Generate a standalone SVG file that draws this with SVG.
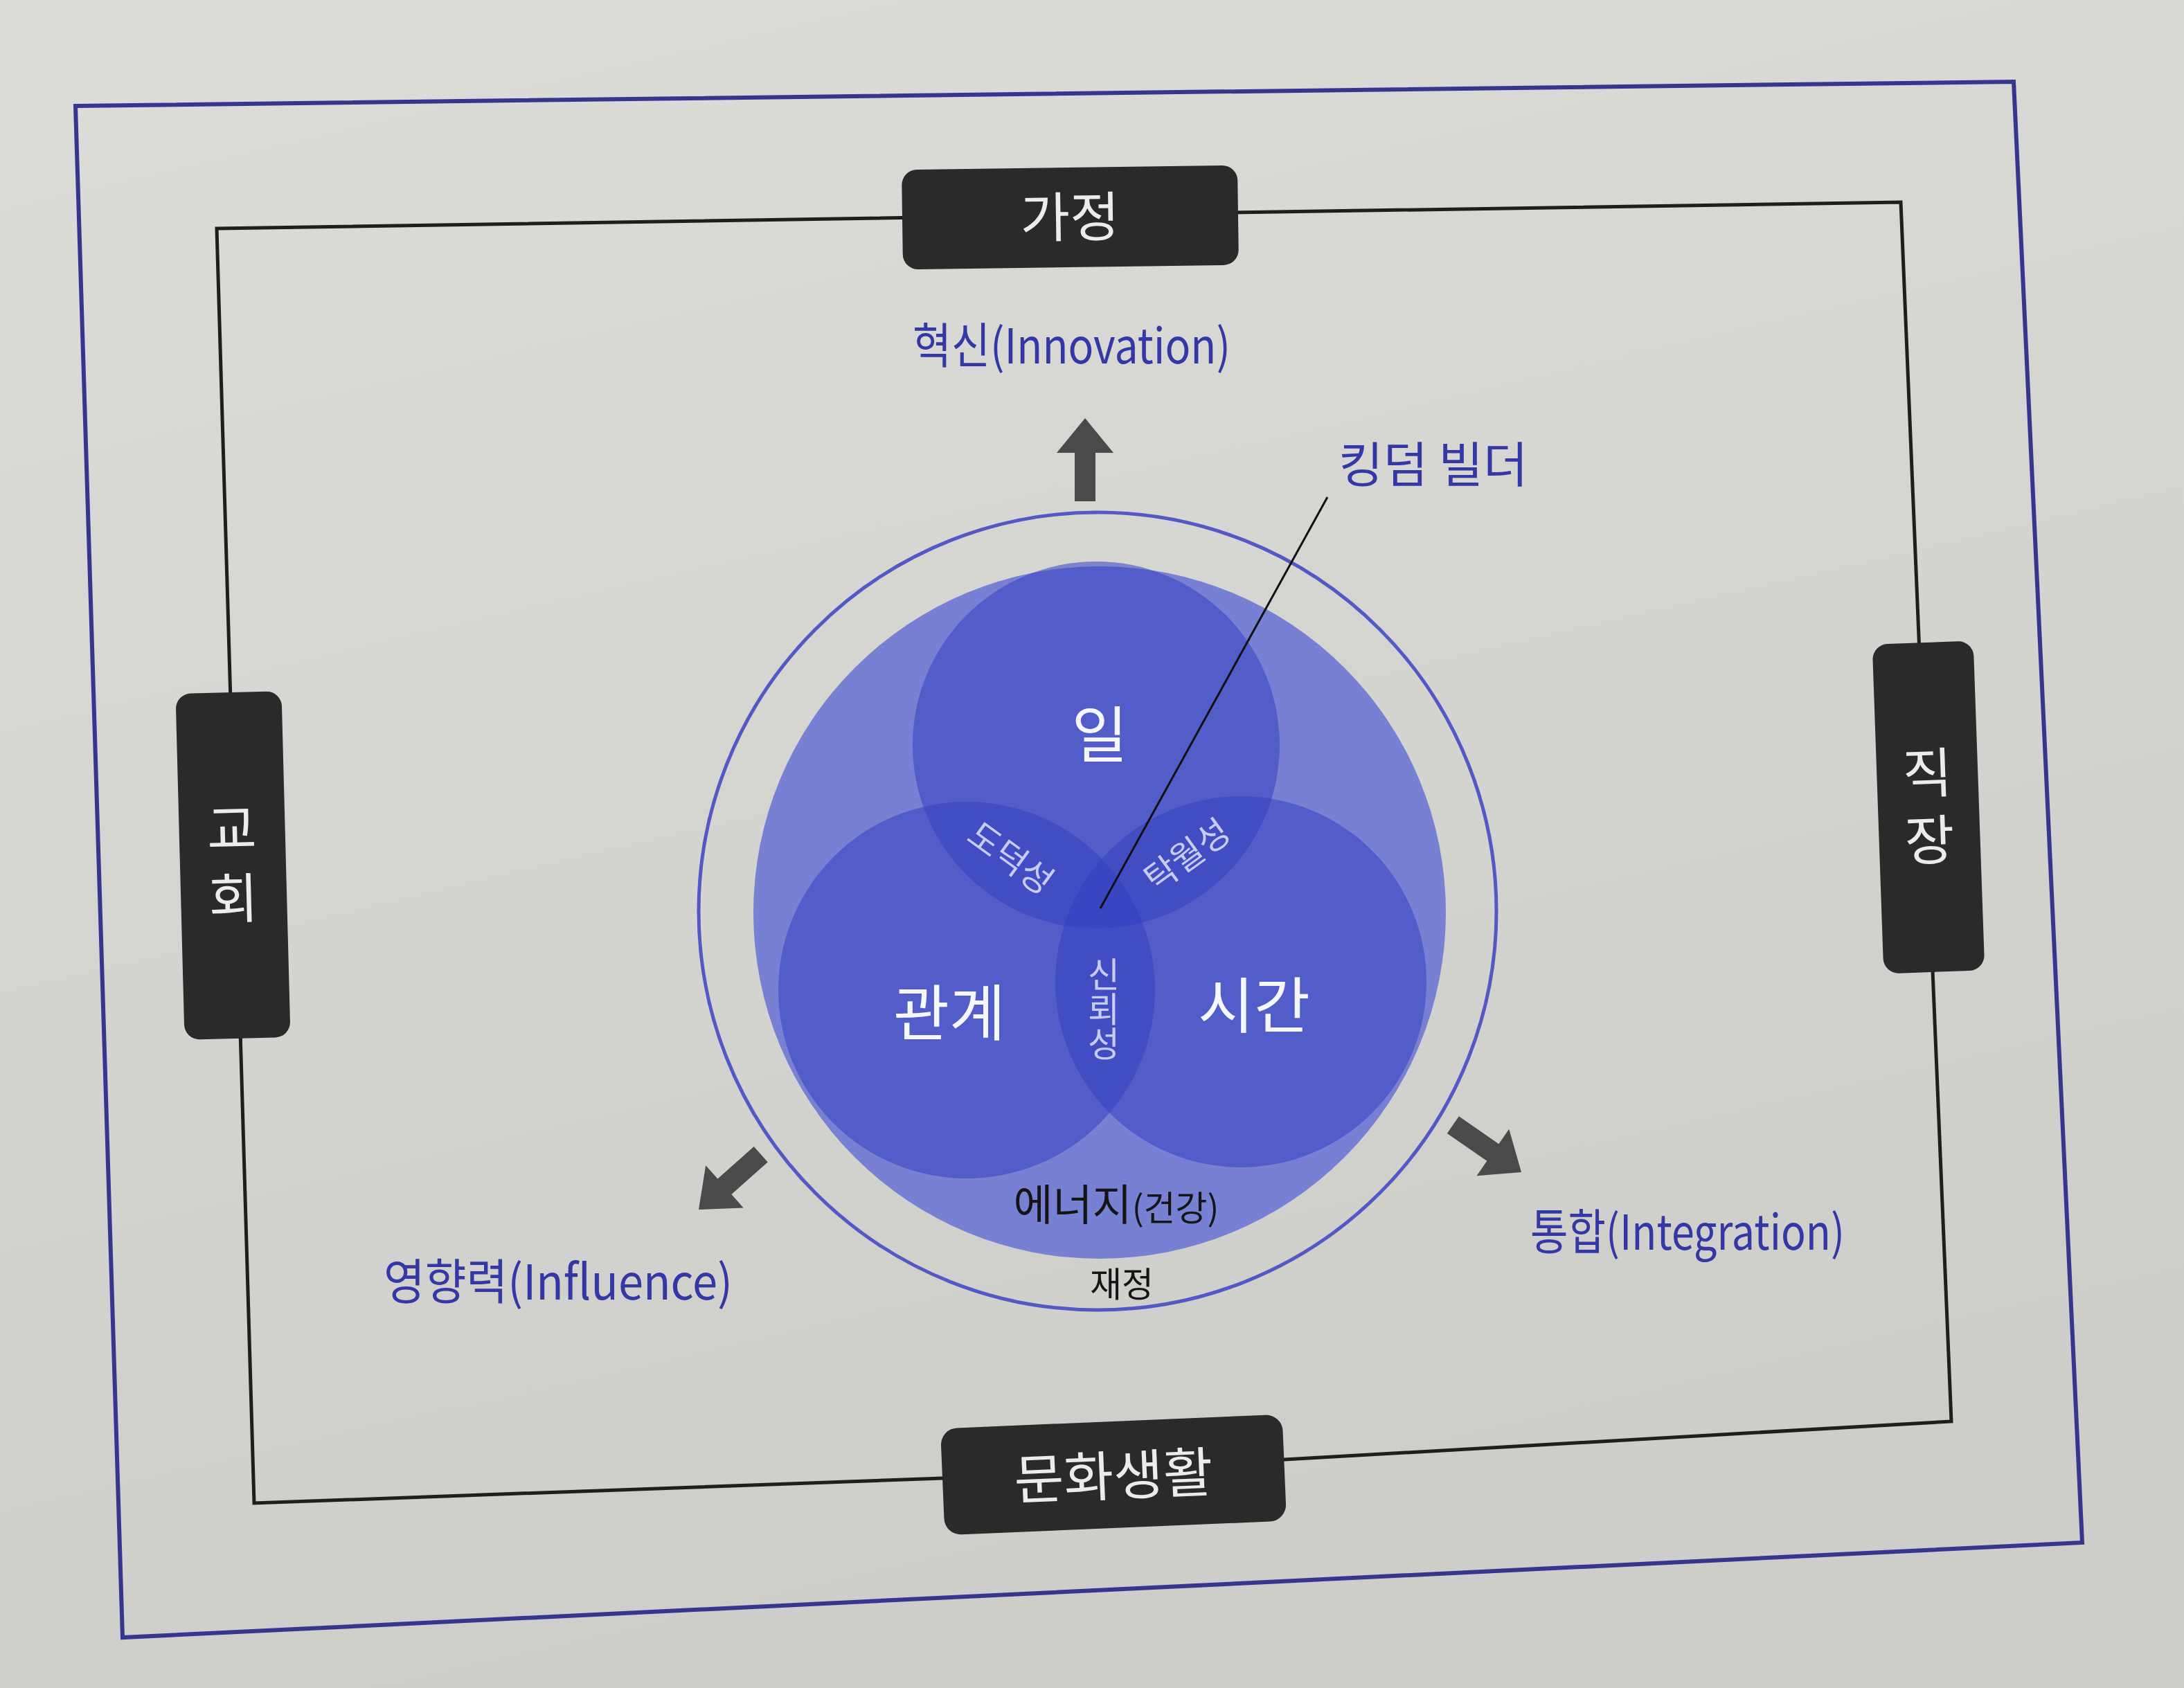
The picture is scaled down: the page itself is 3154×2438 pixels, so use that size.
<svg xmlns="http://www.w3.org/2000/svg" width="3154" height="2438" viewBox="0 0 3154 2438">
<defs>
<linearGradient id="paper" x1="0" y1="0" x2="0.3" y2="1">
<stop offset="0" stop-color="#dcdcd8"/>
<stop offset="1" stop-color="#cdcdc9"/>
</linearGradient>
<polygon id="arr" points="0,0 41,50 15,50 15,120 -15,120 -15,50 -41,50"/>
<style>
.kr{font-family:"Noto Sans CJK KR","Noto Sans",sans-serif}
.node rect{fill:#2b2929}
.node text{fill:#ececec;font-size:78px;text-anchor:middle}
.lbl{fill:#3438a4;font-size:70px}
.big{fill:#f6f6ff;font-size:88px;text-anchor:middle}
.small{fill:#c9ccf2;font-size:50px;text-anchor:middle}
.blk{fill:#151515;text-anchor:middle}
.venn{fill:#3540c0;fill-opacity:0.55}
.arrow{fill:#4a4a4a}
</style>
</defs>
<rect width="3154" height="2438" fill="url(#paper)"/>
<polygon points="109,153 2908,118 3007,2228 177,2365" fill="none" stroke="#36378c" stroke-width="6"/>

<g id="venn">
<circle cx="1585" cy="1316" r="576" fill="none" stroke="#5358c5" stroke-width="5"/>
<circle cx="1588" cy="1318" r="500" fill="#7880d4"/>
<circle class="venn" cx="1583" cy="1076" r="265"/>
<circle class="venn" cx="1396" cy="1430" r="272"/>
<circle class="venn" cx="1792" cy="1418" r="268"/>
</g>

<g id="connectors" fill="none" stroke="#1e1e1e" stroke-width="5">
<path d="M313,330 L2745,292 L2818,2053 L1855,2108 L1361,2135 L367,2171 Z"/>
<line x1="1917" y1="718" x2="1589" y2="1312" stroke="#111" stroke-width="3"/>
</g>

<g id="venn-labels" class="kr">
<text class="big" x="1588" y="1093">일</text>
<text class="big" x="1371" y="1495">관계</text>
<text class="big" x="1811" y="1484">시간</text>
<text class="small" transform="translate(1459,1240) rotate(36)" y="17">도덕성</text>
<text class="small" transform="translate(1715,1236) rotate(-36)" y="17">탁월성</text>
<text class="small" x="1594" y="1457" font-size="52" writing-mode="vertical-rl" style="text-orientation:upright">신뢰성</text>
<text class="blk" x="1612" y="1763" font-size="62">에너지<tspan font-size="50">(건강)</tspan></text>
<text class="blk" x="1620" y="1873" font-size="50">재정</text>
</g>

<g id="node-gajeong" class="node kr" transform="rotate(-0.8 1545 314)">
<rect x="1303" y="242" width="485" height="144" rx="22"/>
<text x="1545" y="342">가정</text>
</g>
<g id="node-gyohoe" class="node kr" transform="rotate(-1.5 336 1250)">
<rect x="260" y="1000" width="153" height="500" rx="22"/>
<text x="336" y="1226">교</text>
<text x="336" y="1326">회</text>
</g>
<g id="node-jikjang" class="node kr" transform="rotate(-2 2785 1166)">
<rect x="2712" y="928" width="146" height="476" rx="22"/>
<text x="2785" y="1145">직</text>
<text x="2785" y="1242">장</text>
</g>
<g id="node-munhwa" class="node kr" transform="rotate(-2.4 1608 2130)">
<rect x="1361" y="2053" width="494" height="154" rx="24"/>
<text x="1608" y="2160" font-size="84">문화생활</text>
</g>

<g id="arrows">
<use href="#arr" class="arrow" transform="translate(1567,604)"/>
<use href="#arr" class="arrow" transform="translate(1009,1747) rotate(-131.6)"/>
<use href="#arr" class="arrow" transform="translate(2197,1693) rotate(124.7)"/>
</g>

<g id="labels" class="kr">
<text class="lbl" x="1318" y="525" textLength="459" lengthAdjust="spacingAndGlyphs">혁신(Innovation)</text>
<text class="lbl" x="554" y="1877" textLength="504" lengthAdjust="spacingAndGlyphs">영향력(Influence)</text>
<text class="lbl" x="2210" y="1805" textLength="454" lengthAdjust="spacingAndGlyphs">통합(Integration)</text>
<text class="lbl" x="1933" y="697" font-size="68">킹덤 빌더</text>
</g>
</svg>
